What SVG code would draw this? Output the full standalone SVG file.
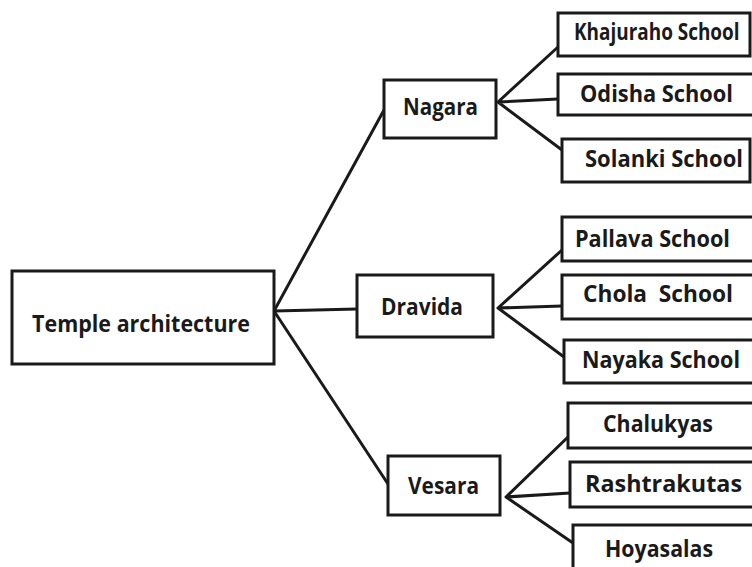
<svg xmlns="http://www.w3.org/2000/svg" width="752" height="567" viewBox="0 0 752 567">
<style>
.box{fill:#fff;stroke:#1a1a1a;stroke-width:3}
.t{font-family:"Open Sans","Liberation Sans",sans-serif;font-weight:700;font-size:22.5px;fill:#1a1a1a}
.c{fill:none;stroke:#1a1a1a;stroke-width:3;stroke-linecap:round}
</style>
<rect width="752" height="567" fill="#fff"/>
<g id="connectors">
<path class="c" d="M274 311 L384 110 M274 311 L357 309 M274 311 L388 484"/>
<path class="c" d="M498 102 L558 47 M498 102 L558 99 M498 102 L562 150"/>
<path class="c" d="M498 308 L562 250 M498 308 L562 306 M498 308 L564 357"/>
<path class="c" d="M506 497 L568 437 M506 497 L570 493 M506 497 L573 543"/>
</g>
<g id="root"><rect class="box" x="12" y="271" width="262" height="93"/><text class="t" x="32" y="332" textLength="218" lengthAdjust="spacingAndGlyphs">Temple architecture</text></g>
<g id="nagara"><rect class="box" x="384" y="80" width="112" height="58"/><text class="t" x="403" y="115" textLength="75" lengthAdjust="spacingAndGlyphs">Nagara</text></g>
<g id="dravida"><rect class="box" x="357" y="275" width="136" height="62"/><text class="t" x="381" y="315" textLength="82" lengthAdjust="spacingAndGlyphs">Dravida</text></g>
<g id="vesara"><rect class="box" x="388" y="456" width="112" height="59"/><text class="t" x="408" y="494" textLength="71" lengthAdjust="spacingAndGlyphs">Vesara</text></g>
<g id="khajuraho"><rect class="box" x="558" y="13" width="192" height="43"/><text class="t" transform="translate(574 40) scale(0.8 1)" x="0" y="0" textLength="207" lengthAdjust="spacingAndGlyphs">Khajuraho School</text></g>
<g id="odisha"><rect class="box" x="558" y="74" width="200" height="41"/><text class="t" x="580" y="102" textLength="153" lengthAdjust="spacingAndGlyphs">Odisha School</text></g>
<g id="solanki"><rect class="box" x="562" y="139" width="188" height="43"/><text class="t" x="585" y="167" textLength="158" lengthAdjust="spacingAndGlyphs">Solanki School</text></g>
<g id="pallava"><rect class="box" x="562" y="217" width="196" height="44"/><text class="t" x="575" y="247" textLength="155" lengthAdjust="spacingAndGlyphs">Pallava School</text></g>
<g id="chola"><rect class="box" x="562" y="275" width="196" height="44"/><text class="t" x="583" y="302" textLength="150" lengthAdjust="spacingAndGlyphs" xml:space="preserve">Chola  School</text></g>
<g id="nayaka"><rect class="box" x="564" y="340" width="194" height="43"/><text class="t" x="582" y="368" textLength="158" lengthAdjust="spacingAndGlyphs">Nayaka School</text></g>
<g id="chalukyas"><rect class="box" x="568" y="403" width="190" height="45"/><text class="t" x="603" y="432" textLength="110" lengthAdjust="spacingAndGlyphs">Chalukyas</text></g>
<g id="rashtrakutas"><rect class="box" x="570" y="462" width="188" height="45"/><text class="t" x="585" y="492" textLength="157" lengthAdjust="spacingAndGlyphs">Rashtrakutas</text></g>
<g id="hoyasalas"><rect class="box" x="573" y="525" width="185" height="50"/><text class="t" x="605" y="557" textLength="108" lengthAdjust="spacingAndGlyphs">Hoyasalas</text></g>
</svg>
